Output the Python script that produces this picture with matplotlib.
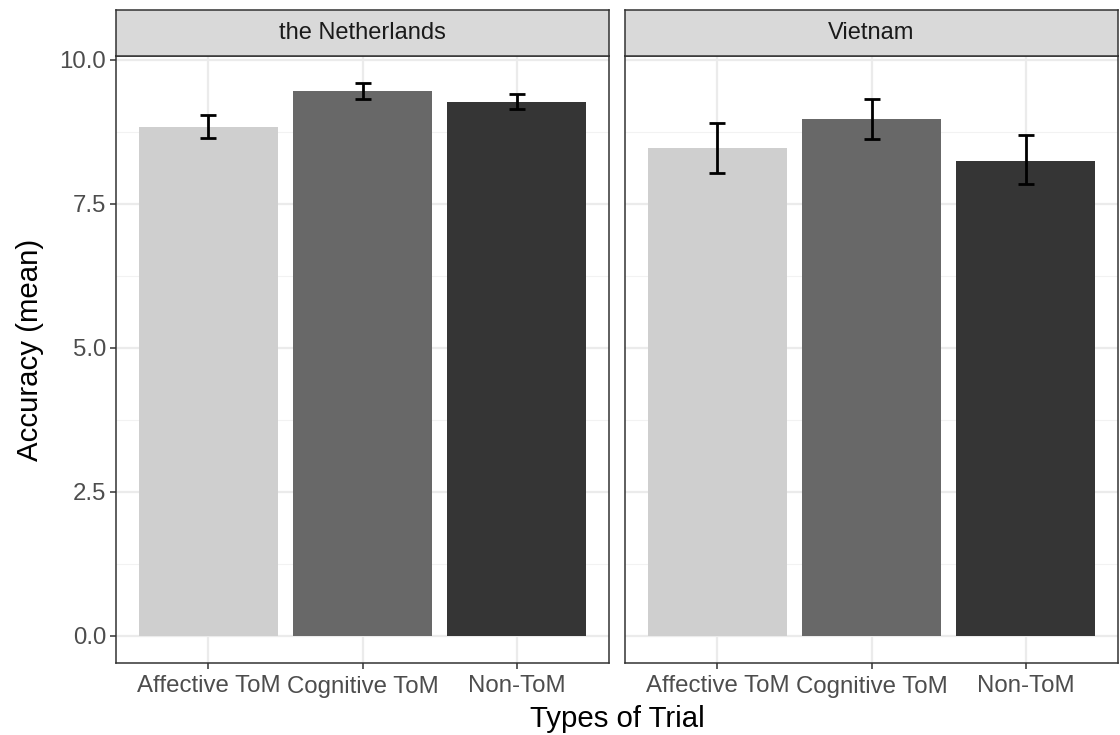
import matplotlib.pyplot as plt
import numpy as np

plt.rcParams['font.family'] = ['Liberation Sans', 'DejaVu Sans']

# data
countries = ['the Netherlands', 'Vietnam']
trial_types = ['Affective ToM', 'Cognitive ToM', 'Non-ToM']
means = {
    'the Netherlands': [8.84, 9.46, 9.27],
    'Vietnam': [8.46, 8.97, 8.25],
}
err_low = {
    'the Netherlands': [8.64, 9.31, 9.14],
    'Vietnam': [8.03, 8.63, 7.85],
}
err_high = {
    'the Netherlands': [9.04, 9.59, 9.41],
    'Vietnam': [8.91, 9.31, 8.69],
}
y_ticks = [0.0, 2.5, 5.0, 7.5, 10.0]
y_tick_labels = ['0.0', '2.5', '5.0', '7.5', '10.0']

bar_colors = ['#CFCFCF', '#686868', '#353535']

W, H = 1120, 735
fig = plt.figure(figsize=(W / 100, H / 100), dpi=100)

# panel boxes in pixels: left, right
panel_x = [(116, 609), (625, 1118)]
panel_top, panel_bottom = 56, 663
strip_top = 10

x = np.arange(1, len(trial_types) + 1)

for i, country in enumerate(countries):
    l, r = panel_x[i]
    ax = fig.add_axes([l / W, (H - panel_bottom) / H, (r - l) / W, (panel_bottom - panel_top) / H])

    # grid
    ax.set_axisbelow(True)
    for yv in [1.25, 3.75, 6.25, 8.75]:
        ax.axhline(yv, color='#F2F2F2', lw=0.8, zorder=0)
    for yv in y_ticks:
        ax.axhline(yv, color='#EBEBEB', lw=1.6, zorder=0)
    for xv in x:
        ax.axvline(xv, color='#EBEBEB', lw=1.6, zorder=0)

    m = np.array(means[country])
    lo = np.array(err_low[country])
    hi = np.array(err_high[country])
    ax.bar(x, m, width=0.9, color=bar_colors, zorder=2)
    ax.errorbar(x, m, yerr=[m - lo, hi - m], fmt='none', ecolor='black',
                elinewidth=2.0, capsize=5.6, capthick=2.0, zorder=3)

    ax.set_xlim(0.4, 3.6)
    ax.set_ylim(-0.475, 10.065)
    ax.set_xticks(x, trial_types)
    ax.set_yticks(y_ticks, y_tick_labels)
    ax.tick_params(axis='both', length=4, width=1.1, color='#333333',
                   labelsize=17.3, labelcolor='#4D4D4D', pad=3)
    ax.tick_params(axis='x', pad=5)
    if i > 0:
        ax.tick_params(axis='y', labelleft=False, length=0)
    for s in ax.spines.values():
        s.set_color('#333333')
        s.set_linewidth(1.1)

    # facet strip
    sax = fig.add_axes([l / W, (H - panel_top) / H, (r - l) / W, (panel_top - strip_top) / H])
    sax.set_facecolor('#D9D9D9')
    sax.set_xticks([])
    sax.set_yticks([])
    for s in sax.spines.values():
        s.set_color('#333333')
        s.set_linewidth(1.1)
    sax.text(0.5, 0.5, country, ha='center', va='center', fontsize=17,
             color='#1A1A1A', transform=sax.transAxes)

fig.text((116 + 1118) / 2 / W, 1 - 719 / H, 'Types of Trial', ha='center', va='center',
         fontsize=21.2, color='black')
fig.text(30 / W, 1 - 350 / H, 'Accuracy (mean)', ha='center', va='center',
         rotation=90, fontsize=21.2, color='black')

fig.savefig('out.png', dpi=100)
